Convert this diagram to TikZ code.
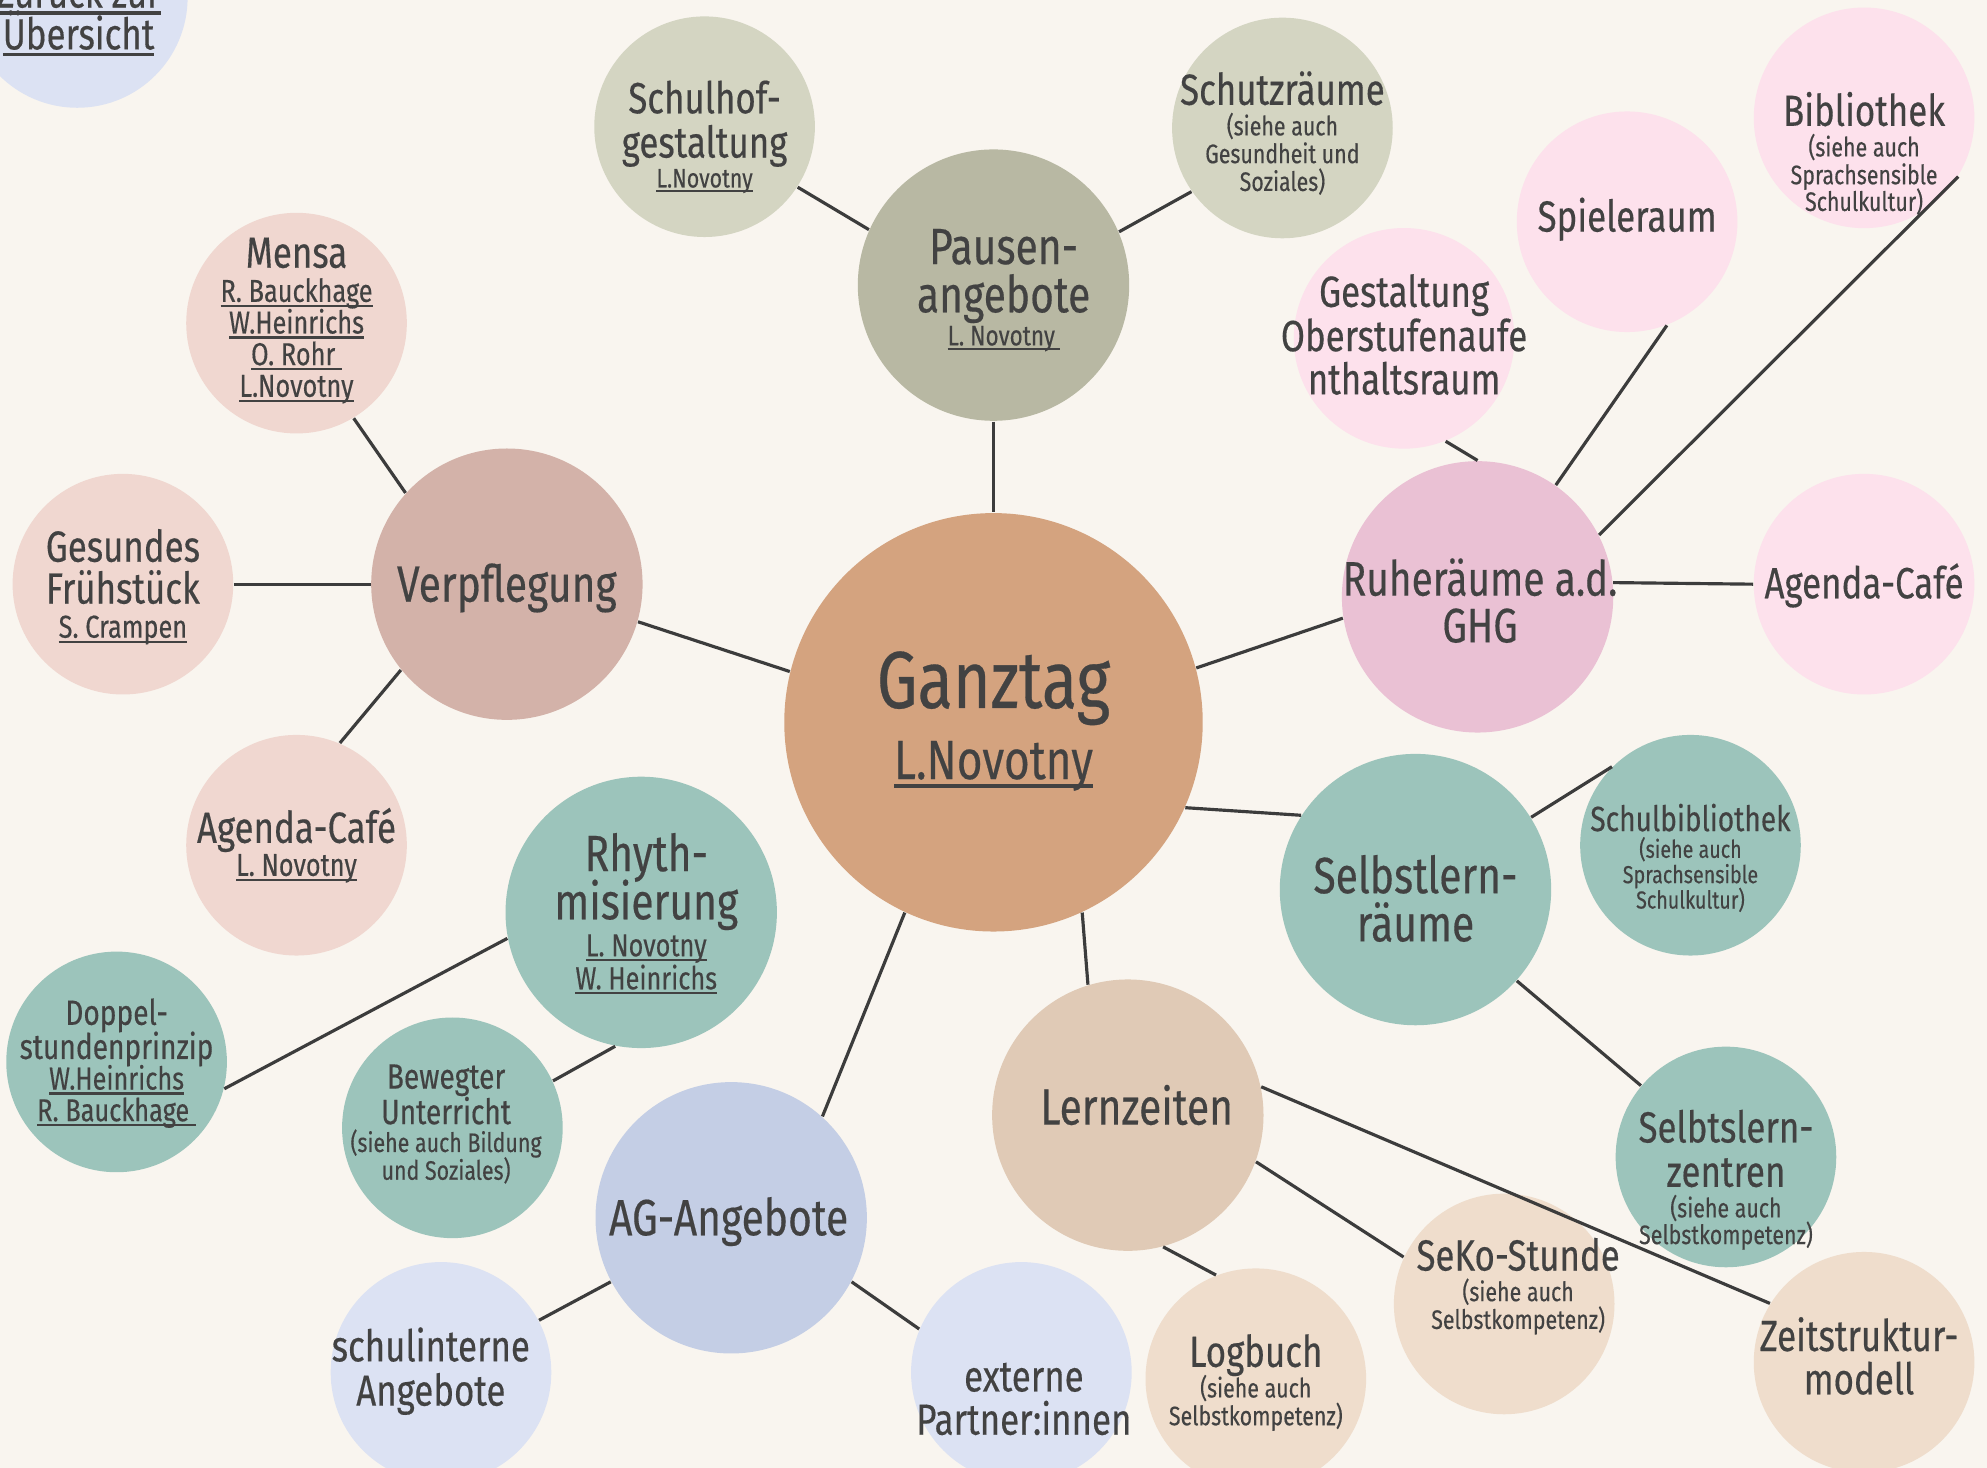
\documentclass[tikz,border=0pt]{standalone}
\usepackage{fontspec}
\setmainfont[FakeStretch=0.8,FakeBold=0.35]{Fira Sans}
\newfontfamily\pkfont[FakeStretch=0.8,FakeBold=0.35]{Fira Sans}
\definecolor{bg}{HTML}{F9F5EF}
\definecolor{tx}{HTML}{424242}
\definecolor{ln}{HTML}{3C3C3C}
\definecolor{cBlueL}{HTML}{DCE2F3}
\definecolor{cSageL}{HTML}{D4D5C2}
\definecolor{cSage}{HTML}{B8B8A3}
\definecolor{cPinkL}{HTML}{FDE1EC}
\definecolor{cPink}{HTML}{EAC1D4}
\definecolor{cRoseL}{HTML}{F0D7D0}
\definecolor{cRose}{HTML}{D3B2A9}
\definecolor{cOrange}{HTML}{D4A37F}
\definecolor{cTeal}{HTML}{9CC4BB}
\definecolor{cTan}{HTML}{E0CAB6}
\definecolor{cTanL}{HTML}{EFDDCC}
\definecolor{cBlue}{HTML}{C4CEE5}
\newcommand\myA{\fontsize{14.5}{0}\selectfont}
\newcommand\myB{\fontsize{12.4}{0}\selectfont}
\newcommand\myC{\fontsize{10}{0}\selectfont}
\newcommand\myN{\fontsize{9}{0}\selectfont}
\newcommand\myS{\fontsize{7.6}{0}\selectfont}
\newcommand\myT{\fontsize{7}{0}\selectfont}
\newcommand\pkA{\pkfont\fontsize{13.8}{0}\selectfont}
\newcommand\pkB{\pkfont\fontsize{12.4}{0}\selectfont}
\newcommand\pkS{\pkfont\fontsize{7.6}{0}\selectfont}
\newsavebox\ulbox
\newcommand\myul[1]{\sbox\ulbox{#1}\rlap{\rule[-0.16em]{\wd\ulbox}{0.07em}}\usebox\ulbox}
\begin{document}
\begin{tikzpicture}[x=0.012672cm,y=-0.012672cm,
  bubS/.style={circle,inner sep=0pt,draw=none,minimum size=2.205cm},
  bubL/.style={circle,inner sep=0pt,draw=none,minimum size=2.712cm},
  bubG/.style={circle,inner sep=0pt,draw=none,minimum size=4.182cm},
  txt/.style={align=center,text=tx,inner sep=0pt,font=\fontsize{10}{0}\selectfont},
  con/.style={draw=ln,line width=0.9pt}]
\lineskiplimit=-1000pt
\useasboundingbox (0,0) rectangle (1568,1158.4);
\clip (0,0) rectangle (1568,1158.4);
\fill[bg] (0,0) rectangle (1568,1158.4);
% bubbles
\node[bubS,fill=cBlueL] (zur) at (61,-2) {};
\node[bubS,fill=cSageL] (hof) at (556,100) {};
\node[bubL,fill=cSage] (pau) at (784,225) {};
\node[bubS,fill=cSageL] (sch) at (1012,101) {};
\node[bubS,fill=cPinkL] (bib) at (1471,93) {};
\node[bubS,fill=cPinkL] (spi) at (1284,175) {};
\node[bubS,fill=cPinkL] (ges) at (1108,267) {};
\node[bubS,fill=cRoseL] (men) at (234,255) {};
\node[bubL,fill=cRose] (ver) at (400,461) {};
\node[bubS,fill=cRoseL] (fru) at (97,461) {};
\node[bubS,fill=cRoseL] (agl) at (234,667) {};
\node[bubG,fill=cOrange] (gan) at (784,570) {};
\node[bubL,fill=cPink] (ruh) at (1166,471) {};
\node[bubS,fill=cPinkL] (agr) at (1471,461) {};
\node[bubL,fill=cTeal] (rhy) at (506,720) {};
\node[bubS,fill=cTeal] (dop) at (92,838) {};
\node[bubS,fill=cTeal] (bew) at (357,890) {};
\node[bubL,fill=cTeal] (slr) at (1117,702) {};
\node[bubS,fill=cTeal] (sbi) at (1334,667) {};
\node[bubL,fill=cTan] (lern) at (890,880) {};
\node[bubS,fill=cTeal] (slz) at (1362,913) {};
\node[bubL,fill=cBlue] (ag) at (577,961) {};
\node[bubS,fill=cBlueL] (sin) at (348,1083) {};
\node[bubS,fill=cBlueL] (ext) at (806,1083) {};
\node[bubS,fill=cTanL] (log) at (991,1088) {};
\node[bubS,fill=cTanL] (sek) at (1187,1029) {};
\node[bubS,fill=cTanL] (zei) at (1471,1075) {};
% texts
\node[txt] (zur-t) at (62,12) {{\myB\myul{Zurück zur}}\\[11.9pt]{\myB\myul{Übersicht}}};
\node[txt] (hof-t) at (556,108) {{\myB Schulhof-}\\[12.6pt]{\myB gestaltung}\\[8.5pt]{\myS\myul{L.Novotny}}};
\node[txt] (pau-t) at (792,229) {{\myA Pausen-}\\[13.7pt]{\myA angebote}\\[9.4pt]{\fontsize{8}{0}\selectfont\myul{L. Novotny\,}}};
\node[txt] (sch-t) at (1012,105) {{\myB Schutzräume}\\[8.7pt]{\myS (siehe auch}\\[7.9pt]{\myS Gesundheit und}\\[7.9pt]{\myS Soziales)}};
\node[txt] (bib-t) at (1471,121) {{\pkB Bibliothek}\\[8.7pt]{\pkS (siehe auch}\\[7.9pt]{\pkS Sprachsensible}\\[7.6pt]{\pkS Schulkultur)}};
\node[txt] (spi-t) at (1284,173) {{\pkB Spieleraum}};
\node[txt] (ges-t) at (1108,264) {{\pkB Gestaltung}\\[12.6pt]{\pkB Oberstufenaufe}\\[12.3pt]{\pkB nthaltsraum}};
\node[txt] (men-t) at (234,253) {{\myB Mensa}\\[9.7pt]{\myN\myul{R. Bauckhage}}\\[9pt]{\myN\myul{W.Heinrichs}}\\[9pt]{\myN\myul{O. Rohr\ }}\\[9pt]{\myN\myul{L.Novotny}}};
\node[txt] (ver-t) at (400,464) {{\myA Verpflegung}};
\node[txt] (fru-t) at (97,463) {{\myB Gesundes}\\[11.9pt]{\myB Frühstück}\\[9.7pt]{\myN\myul{S. Crampen}}};
\node[txt] (agl-t) at (234,667) {{\myB Agenda-Café}\\[9.4pt]{\myN\myul{L. Novotny}}};
\node[txt] (gan-t) at (784,569) {{\fontsize{23}{0}\selectfont Ganztag}\\[20.2pt]{\fontsize{15.7}{0}\selectfont\myul{L.Novotny}}};
\node[txt] (ruh-t) at (1168,474) {{\pkA Ruheräume a.d.}\\[13.3pt]{\pkA GHG}};
\node[txt] (agr-t) at (1471,462) {{\pkB Agenda-Café}};
\node[txt] (rhy-t) at (510,721) {{\myA Rhyth-}\\[13.7pt]{\myA misierung}\\[10.5pt]{\myN\myul{L. Novotny}}\\[9.4pt]{\myN\myul{W. Heinrichs}}};
\node[txt] (dop-t) at (92,839) {{\myC Doppel-}\\[9.7pt]{\myC stundenprinzip}\\[8.7pt]{\myN\myul{W.Heinrichs}}\\[9pt]{\myN\myul{R. Bauckhage\ }}};
\node[txt] (bew-t) at (352,887) {{\myC Bewegter}\\[10.1pt]{\myC Unterricht}\\[7.9pt]{\myS (siehe auch Bildung}\\[7.9pt]{\myS und Soziales)}};
\node[txt] (slr-t) at (1117,709) {{\myA Selbstlern-}\\[13.7pt]{\myA räume}};
\node[txt] (sbi-t) at (1334,677) {{\myC Schulbibliothek}\\[7.6pt]{\myT (siehe auch}\\[7.2pt]{\myT Sprachsensible}\\[7.2pt]{\myT Schulkultur)}};
\node[txt] (lern-t) at (897,872) {{\myA Lernzeiten}};
\node[txt] (slz-t) at (1362,931) {{\myB Selbtslern-}\\[12.6pt]{\myB zentren}\\[8.7pt]{\myS (siehe auch}\\[7.6pt]{\myS Selbstkompetenz)}};
\node[txt] (ag-t) at (575,964) {{\myA AG-Angebote}};
\node[txt] (sin-t) at (340,1082) {{\myB schulinterne}\\[12.6pt]{\myB Angebote}};
\node[txt] (ext-t) at (808,1104) {{\myB externe}\\[12.3pt]{\myB Partner:innen}};
\node[txt] (log-t) at (991,1091) {{\myB Logbuch}\\[8.7pt]{\myS (siehe auch}\\[7.9pt]{\myS Selbstkompetenz)}};
\node[txt] (sek-t) at (1198,1015) {{\myB SeKo-Stunde}\\[8.7pt]{\myS (siehe auch}\\[7.9pt]{\myS Selbstkompetenz)}};
\node[txt] (zei-t) at (1467,1070) {{\myB Zeitstruktur-}\\[12.3pt]{\myB modell}};
% connectors
\draw[con] (hof.-33) -- (pau.156);
\draw[con] (sch.215) -- (pau.23);
\draw[con] (pau.-90) -- (gan.90);
\draw[con] (men.-59) -- (ver.138);
\draw[con] (fru.0) -- (ver.180);
\draw[con] (agl.67) -- (ver.219);
\draw[con] (ver.-16) -- (gan.166);
\draw[con] (gan.15) -- (ruh.189);
\draw[con] (ges.-68) -- (ruh.90);
\draw[con] (spi.-69) -- (ruh.55);
\draw[con] (bib.-32) -- (ruh.27);
\draw[con] (ruh.6) -- (agr.180);
\draw[con] (gan.-24) -- (slr.147);
\draw[con] (slr.32) -- (sbi.135);
\draw[con] (slr.-42) -- (slz.140);
\draw[con] (gan.-65) -- (lern.107);
\draw[con] (gan.-115) -- (ag.48);
\draw[con] (rhy.191) -- (dop.-14);
\draw[con] (rhy.-101) -- (bew.25);
\draw[con] (ag.-152) -- (sin.28);
\draw[con] (ag.-28) -- (ext.157);
\draw[con] (lern.-75) -- (log.111);
\draw[con] (lern.-20) -- (sek.155);
\draw[con] (lern.12) -- (zei.148);
\end{tikzpicture}
\end{document}
